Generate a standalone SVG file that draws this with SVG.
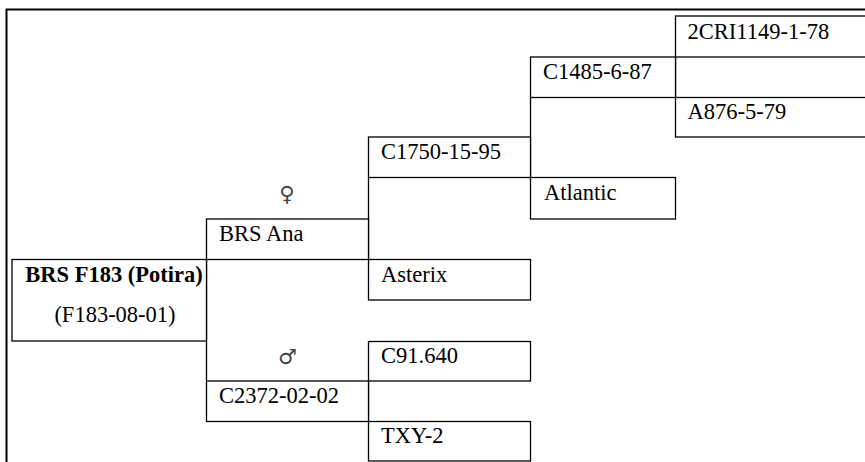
<svg xmlns="http://www.w3.org/2000/svg" width="865" height="462" viewBox="0 0 865 462">
<style>
.box{fill:#fff;stroke:#000;stroke-width:1.3}
.ln{fill:none;stroke:#000;stroke-width:1.3}
.t{font-family:"Liberation Serif","Times New Roman",serif;font-size:22.5px;fill:#000}
.b{font-weight:bold;text-anchor:middle}
.c{text-anchor:middle}
.sym{font-family:"DejaVu Sans",sans-serif;font-size:21px;fill:#444;text-anchor:middle}
</style>
<rect width="865" height="462" fill="#fff"/>
<rect id="frame" x="6.5" y="9.5" width="900" height="500" fill="none" stroke="#000" stroke-width="2"/>
<g id="connectors">
<line class="ln" x1="206.5" y1="259.5" x2="206.5" y2="381"/>
<line class="ln" x1="368.5" y1="177.5" x2="368.5" y2="259.5"/>
<line class="ln" x1="368.5" y1="381" x2="368.5" y2="421.5"/>
<line class="ln" x1="530.5" y1="97.5" x2="530.5" y2="177.5"/>
<line class="ln" x1="675.5" y1="57" x2="675.5" y2="97.5"/>
</g>
<g id="n-f183">
<rect class="box" x="12" y="259.5" width="194.5" height="81.5"/>
<text class="t b" x="114" y="282">BRS F183 (Potira)</text>
<text class="t c" x="115" y="322">(F183-08-01)</text>
</g>
<g id="n-brsana">
<rect class="box" x="206.5" y="219" width="162" height="40.5"/>
<text class="t" x="219" y="240.5">BRS Ana</text>
</g>
<g id="sym-female"><text class="sym" x="287" y="201">♀</text></g>
<g id="n-c2372">
<rect class="box" x="206.5" y="381" width="162" height="40.5"/>
<text class="t" x="219" y="403">C2372-02-02</text>
</g>
<g id="sym-male"><text class="sym" x="287.5" y="364">♂</text></g>
<g id="n-c1750">
<rect class="box" x="368.5" y="137" width="162" height="40.5"/>
<text class="t" x="381" y="158.5">C1750-15-95</text>
</g>
<g id="n-asterix">
<rect class="box" x="368.5" y="259.5" width="162" height="40.5"/>
<text class="t" x="381" y="281.5">Asterix</text>
</g>
<g id="n-c91640">
<rect class="box" x="368.5" y="341.5" width="162" height="39.5"/>
<text class="t" x="381" y="363">C91.640</text>
</g>
<g id="n-txy2">
<rect class="box" x="368.5" y="421.5" width="162" height="39.5"/>
<text class="t" x="381" y="443">TXY-2</text>
</g>
<g id="n-c1485">
<rect class="box" x="530.5" y="57" width="145" height="40.5"/>
<text class="t" x="543" y="78.5">C1485-6-87</text>
</g>
<g id="n-atlantic">
<rect class="box" x="530.5" y="177.5" width="145" height="41.5"/>
<text class="t" x="544" y="200">Atlantic</text>
</g>
<g id="n-2cri">
<rect class="box" x="675.5" y="16" width="250" height="41"/>
<text class="t" x="687.5" y="38.5">2CRI1149-1-78</text>
</g>
<g id="n-a876">
<rect class="box" x="675.5" y="97.5" width="250" height="39.5"/>
<text class="t" x="687.5" y="118.5">A876-5-79</text>
</g>
</svg>
